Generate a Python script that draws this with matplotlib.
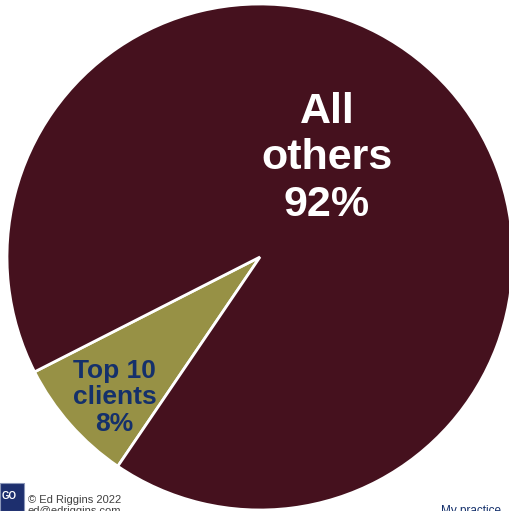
import matplotlib.pyplot as plt
from matplotlib.patches import Rectangle

plt.rcParams['font.family'] = ['Liberation Sans', 'DejaVu Sans']

# client revenue split
labels = ['Top 10\nclients\n8%', 'All\nothers\n92%']
shares = [8, 92]
colors = ['#979145', '#45111e']
label_colors = ['#14306b', 'white']

W, H = 510, 511
fig = plt.figure(figsize=(W / 100, H / 100), dpi=100)

# pie centre (260, 257) px from top-left, radius 253 px
cx, cy, r = 260, 257, 253
ax = fig.add_axes([(cx - r) / W, (H - cy - r) / H, 2 * r / W, 2 * r / H])
wedges, _ = ax.pie(shares, colors=colors, startangle=207, counterclock=True,
                   wedgeprops=dict(edgecolor='white', linewidth=2))
ax.set_xlim(-1, 1)
ax.set_ylim(-1, 1)
ax.set_aspect('auto')
ax.axis('off')

# slice labels
ax.text(0.265, 0.39, labels[1], ha='center', va='center', color=label_colors[1],
        fontsize=31, fontweight='bold', linespacing=1.2)
ax.text(-0.575, -0.555, labels[0], ha='center', va='center', color=label_colors[0],
        fontsize=19, fontweight='bold', linespacing=1.15)

# footer
fig.patches.append(Rectangle((0, 0), 24 / W, 28 / H, transform=fig.transFigure,
                             facecolor='#1d2f6e', edgecolor='#8b97b8', linewidth=0.8))
fig.text(2 / W, 15 / H, 'GO', color='white', fontsize=7, fontweight='bold',
         va='center', ha='left')
fig.text(28 / W, 8 / H, '\u00a9 Ed Riggins 2022', color='#404040', fontsize=8, va='baseline')
fig.text(28 / W, -3 / H, 'ed@edriggins.com', color='#404040', fontsize=8, va='baseline')
fig.text(441 / W, -3 / H, 'My practice', color='#14306b', fontsize=8.5, va='baseline')

fig.savefig('out.png', dpi=100)
